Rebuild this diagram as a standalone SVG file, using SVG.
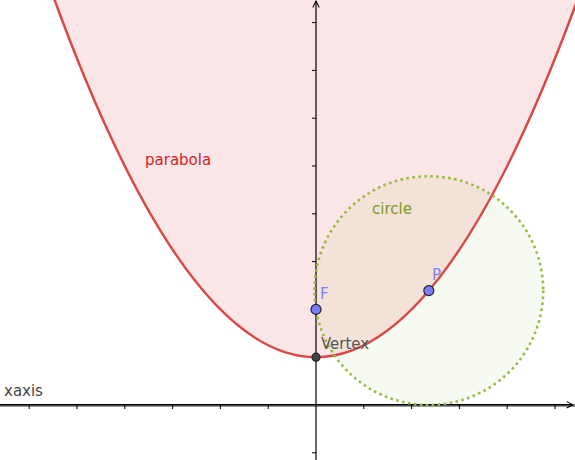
<svg xmlns="http://www.w3.org/2000/svg" width="575" height="460" viewBox="0 0 575 460">
<defs>
<style>
.lbl{font-family:"DejaVu Sans",sans-serif;font-size:15px}
.tick{stroke:#000;stroke-width:1}
.pt{stroke:#222;stroke-width:1.2}
</style>
<marker id="arr" viewBox="0 0 10 10" refX="9" refY="5" markerWidth="8" markerHeight="8" orient="auto" markerUnits="userSpaceOnUse">
<path d="M1,1 L9,5 L1,9" fill="none" stroke="#000" stroke-width="1.3"/>
</marker>
</defs>
<rect width="575" height="460" fill="#fff"/>
<g id="parabola-fill">
<path d="M47.4,-20 Q316,734.4 584.6,-20 Z" fill="#dc3c3c" fill-opacity="0.13"/>
</g>
<g id="circle-fill">
<circle cx="428.8" cy="290.6" r="114.4" fill="#99bb33" fill-opacity="0.075"/>
</g>
<g id="connectors">
<line x1="0" y1="405.5" x2="575" y2="405.5" stroke="#999" stroke-width="3"/>
<line x1="0" y1="404.8" x2="573" y2="404.8" stroke="#000" stroke-width="1.4" marker-end="url(#arr)"/>
<line x1="316" y1="460" x2="316" y2="1" stroke="#000" stroke-width="1.2" marker-end="url(#arr)"/>
<g class="tick">
<path d="M29.2,405V409M77,405V409M124.8,405V409M172.6,405V409M220.4,405V409M268.2,405V409M363.8,405V409M411.6,405V409M459.4,405V409M507.2,405V409M555,405V409"/>
<path d="M312,22.6H316M312,70.4H316M312,118.2H316M312,166H316M312,213.8H316M312,261.6H316M312,309.4H316M312,357.2H316M312,452.8H316"/>
</g>
</g>
<g id="parabola">
<path d="M47.4,-20 Q316,734.4 584.6,-20" fill="none" stroke="#d94848" stroke-width="2.5"/>
<text class="lbl" x="145" y="165" fill="#d41e26">parabola</text>
</g>
<g id="circle">
<circle cx="428.8" cy="290.6" r="114.4" fill="none" stroke="#99bb44" stroke-width="2.6" stroke-dasharray="2.6 3.4"/>
<text class="lbl" x="372" y="214" fill="#7c9c20">circle</text>
</g>
<g id="xaxis">
<text class="lbl" x="4" y="396" fill="#444">xaxis</text>
</g>
<g id="F">
<circle class="pt" cx="316" cy="309.4" r="5" fill="#7b7bff"/>
<text class="lbl" x="320" y="299" fill="#8080ff">F</text>
</g>
<g id="P">
<circle class="pt" cx="428.8" cy="290.6" r="5" fill="#7b7bff"/>
<text class="lbl" x="432" y="280" fill="#8080ff">P</text>
</g>
<g id="Vertex">
<circle class="pt" cx="316" cy="357.2" r="4" fill="#444"/>
<text class="lbl" x="321" y="349" fill="#555">Vertex</text>
</g>
</svg>
